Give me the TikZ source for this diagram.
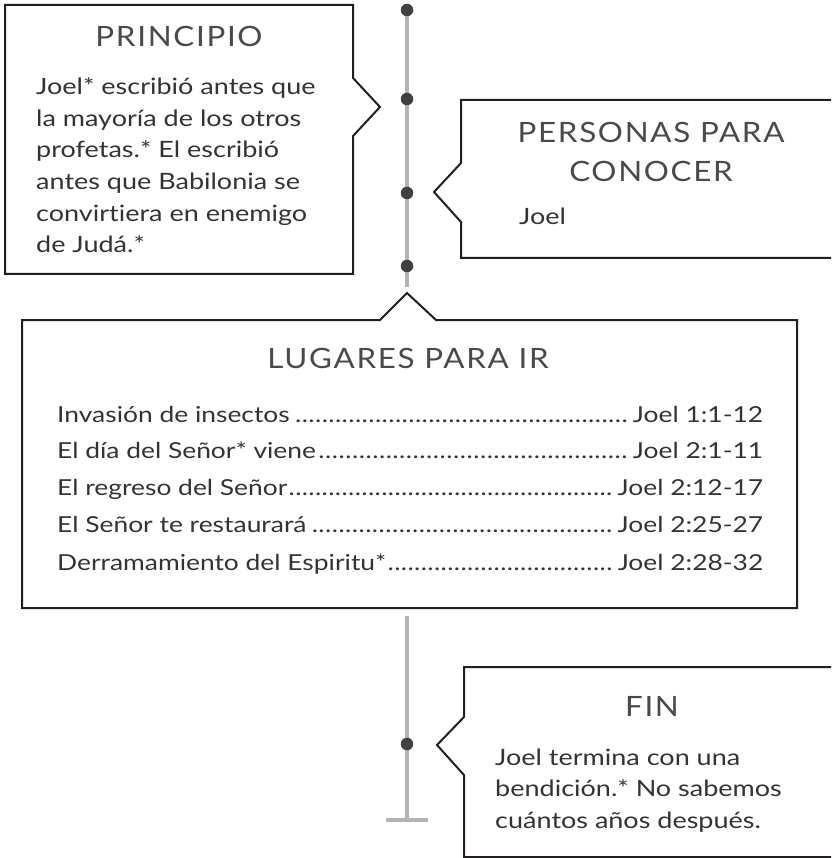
\documentclass[tikz,border=0pt]{standalone}
\usepackage{fontspec}
\setmainfont{Lato}[FakeStretch=1.2,Ligatures=NoCommon]
\newfontfamily\ttlfont{Lato}[LetterSpace=6,FakeStretch=1.12]
\definecolor{ink}{HTML}{231F20}
\definecolor{txt}{HTML}{333333}
\definecolor{ttl}{HTML}{4A4A4A}
\definecolor{tline}{HTML}{B3B3B3}
\definecolor{dotc}{HTML}{414042}
\newcommand{\myleaders}{\xleaders\hbox to 6.6pt{\hss.\hss}\hfill}
\begin{document}
\begin{tikzpicture}[x=1pt,y=-1pt,
  box/.style={draw=ink,line width=2pt,line join=miter},
  tl/.style={draw=tline,line width=4.5pt},
  tdot/.style={circle,fill=dotc,inner sep=0pt,minimum size=12.5pt},
  title/.style={anchor=base,inner sep=0pt,text=ttl,font=\fontsize{28}{30}\selectfont\ttlfont},
  body/.style={anchor=base west,inner sep=0pt,text=txt,font=\fontsize{22.5}{26}\selectfont},
  row/.style={anchor=base west,inner sep=0pt,text=txt,font=\fontsize{22}{26}\selectfont}]
\useasboundingbox (0,0) rectangle (831,858);
\clip (0,0) rectangle (831,858);
% timeline
\coordinate (t0) at (407,10);
\coordinate (t1) at (407,287);
\coordinate (b0) at (407,616);
\coordinate (b1) at (407,820);
\coordinate (bl) at (386,820);
\coordinate (br) at (428,820);
\draw[tl] (t0) -- (t1);
\draw[tl] (b0) -- (b1);
\draw[tl] (bl) -- (br);
\node[tdot] (d1) at (407,10) {};
\node[tdot] (d2) at (407,99) {};
\node[tdot] (d3) at (407,193) {};
\node[tdot] (d4) at (407,266) {};
\node[tdot] (d5) at (407,744) {};
% PRINCIPIO
\draw[box] (5,5) -- (353,5) -- (353,78) -- (380,107) -- (353,136) -- (353,274) -- (5,274) -- cycle;
\node[title] (pt) at (179,47) {PRINCIPIO};
\node[body] (p1) at (36,95) {Joel* escribió antes que};
\node[body] (p2) at (36,127) {la mayoría de los otros};
\node[body] (p3) at (36,158) {profetas.* El escribió};
\node[body] (p4) at (36,190) {antes que Babilonia se};
\node[body] (p5) at (36,222) {convirtiera en enemigo};
\node[body] (p6) at (36,253) {de Judá.*};
% PERSONAS
\draw[box] (840,100) -- (461,100) -- (461,163) -- (434,192) -- (461,222) -- (461,258) -- (840,258);
\node[title] (ct1) at (651,143) {PERSONAS PARA};
\node[title] (ct2) at (651,182) {CONOCER};
\node[body] (c1) at (519,225) {Joel};
% LUGARES
\draw[box] (22,320) -- (380,320) -- (407,293) -- (436,320) -- (797,320) -- (797,608) -- (22,608) -- cycle;
\node[title] (lt) at (408,368) {LUGARES PARA IR};
\node[row] (r1) at (57,422) {\hbox to 706pt{Invasión de insectos\kern5pt\myleaders\kern5pt Joel 1:1-12}};
\node[row] (r2) at (57,458) {\hbox to 706pt{El día del Señor* viene\kern2pt\myleaders\kern5pt Joel 2:1-11}};
\node[row] (r3) at (57,495) {\hbox to 706pt{El regreso del Señor\kern1pt\myleaders\kern5pt Joel 2:12-17}};
\node[row] (r4) at (57,532) {\hbox to 706pt{El Señor te restaurará\kern5pt\myleaders\kern5pt Joel 2:25-27}};
\node[row] (r5) at (57,570) {\hbox to 706pt{Derramamiento del Espiritu*\kern1pt\myleaders\kern5pt Joel 2:28-32}};
% FIN
\draw[box] (840,667) -- (464,667) -- (464,717) -- (437,745) -- (464,775) -- (464,857) -- (840,857);
\node[title] (ft) at (652,716) {FIN};
\node[body] (f1) at (495,765) {Joel termina con una};
\node[body] (f2) at (495,796) {bendición.* No sabemos};
\node[body] (f3) at (495,828) {cuántos años después.};
\end{tikzpicture}
\end{document}
